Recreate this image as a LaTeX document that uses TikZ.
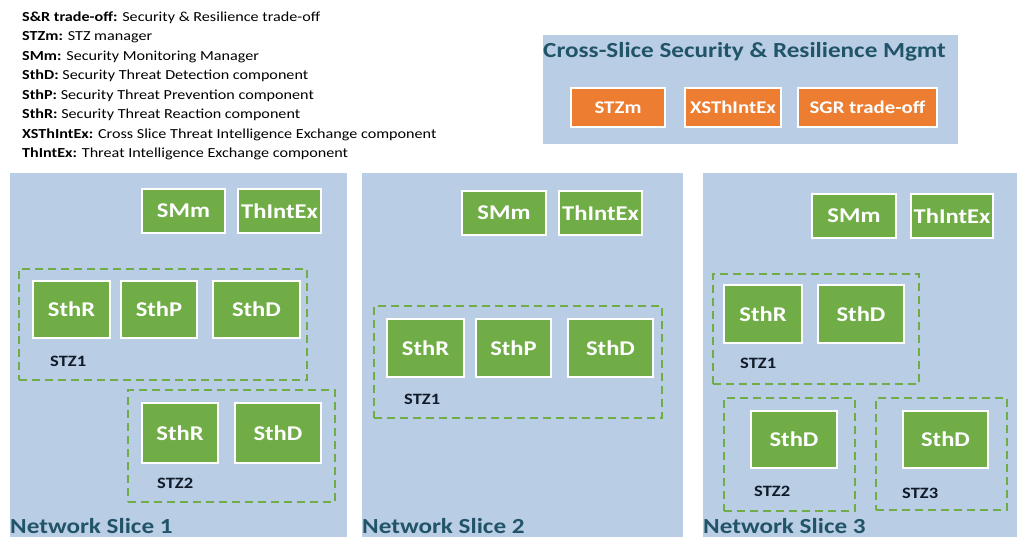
\documentclass[tikz,border=0pt]{standalone}
\usepackage{fontspec}
\setmainfont[FakeStretch=1.17]{Carlito}
\usetikzlibrary{fit}
\definecolor{slicebg}{RGB}{185,205,228}
\definecolor{compgreen}{RGB}{112,173,71}
\definecolor{mgmtorange}{RGB}{237,125,49}
\definecolor{titleteal}{RGB}{33,84,104}
\definecolor{zonetext}{RGB}{16,26,40}
\tikzset{
  slicebox/.style={fill=slicebg, draw=none, inner sep=0pt},
  comp/.style={fill=compgreen, draw=white, line width=2pt, inner sep=0pt,
    text=white, font=\fontsize{21}{23}\selectfont\bfseries},
  mgmt/.style={fill=mgmtorange, draw=white, line width=2pt, inner sep=0pt,
    text=white, font=\fontsize{17.8}{19}\selectfont\bfseries},
  zone/.style={draw=compgreen, line width=1.8pt, dash pattern=on 8pt off 5pt, inner sep=0pt},
  zonelabel/.style={anchor=west, inner sep=0pt, text=zonetext,
    font=\fontsize{15.8}{17}\selectfont\bfseries},
  bigtitle/.style={inner sep=0pt, text=titleteal, font=\fontsize{21.5}{24}\selectfont\bfseries},
  legend/.style={anchor=west, inner sep=0pt, font=\fontsize{13.8}{15}\selectfont}
}
% box given by its corners: style, name, x1, y1, x2, y2, text
\newcommand\cornerbox[7]{%
  \node[#1, minimum width={(#5-#3)*1pt}, minimum height={(#6-#4)*1pt}]
    (#2) at ({(#3+#5)/2},{(#4+#6)/2}) {#7};}
\begin{document}
\begin{tikzpicture}[x=1pt,y=-1pt]
\useasboundingbox (0,0) rectangle (1017,537);
\fill[white] (0,0) rectangle (1017,537);

% glossary
\node[legend] (g1) at (22,17.5)  {\textbf{S\&R trade-off:} Security \& Resilience trade-off};
\node[legend] (g2) at (22,37)    {\textbf{STZm:} STZ manager};
\node[legend] (g3) at (22,56.5)  {\textbf{SMm:} Security Monitoring Manager};
\node[legend] (g4) at (22,76)    {\textbf{SthD:} Security Threat Detection component};
\node[legend] (g5) at (22,95.5)  {\textbf{SthP:} Security Threat Prevention component};
\node[legend] (g6) at (22,115)   {\textbf{SthR:} Security Threat Reaction component};
\node[legend] (g7) at (22,134.5) {\textbf{XSThIntEx:} Cross Slice Threat Intelligence Exchange component};
\node[legend] (g8) at (22,154)   {\textbf{ThIntEx:} Threat Intelligence Exchange component};

% cross-slice management
\node[slicebox, fit={(543,35)(958,144)}] (xs) {};
\node[bigtitle, anchor=base west] (xstitle) at (543,58) {Cross-Slice Security \& Resilience Mgmt};
\cornerbox{mgmt}{stzm}{571}{88}{665}{127}{STZm}
\cornerbox{mgmt}{xsthintex}{685}{88}{781}{127}{XSThIntEx}
\cornerbox{mgmt}{sgr}{798}{88}{937}{127}{SGR trade-off}

% slice backgrounds
\node[slicebox, fit={(10,173)(347,537)}] (s1) {};
\node[slicebox, fit={(362,173)(683,537)}] (s2) {};
\node[slicebox, fit={(703,173)(1017,537)}] (s3) {};

% network slice 1
\cornerbox{comp}{s1smm}{142}{189}{225}{233}{SMm}
\cornerbox{comp}{s1tie}{238}{189}{321}{233}{ThIntEx}
\node[zone, fit={(19,269)(307,380)}] (s1z1) {};
\cornerbox{comp}{s1z1r}{33}{281}{110}{338}{SthR}
\cornerbox{comp}{s1z1p}{121}{281}{197}{338}{SthP}
\cornerbox{comp}{s1z1d}{213}{281}{300}{338}{SthD}
\node[zonelabel] (s1z1l) at (50,361) {STZ1};
\node[zone, fit={(128,390)(335,502)}] (s1z2) {};
\cornerbox{comp}{s1z2r}{142}{403}{218}{463}{SthR}
\cornerbox{comp}{s1z2d}{235}{403}{321}{463}{SthD}
\node[zonelabel] (s1z2l) at (157,483) {STZ2};
\node[bigtitle, anchor=base west] (s1t) at (10,533) {Network Slice 1};

% network slice 2
\cornerbox{comp}{s2smm}{462}{191}{546}{235}{SMm}
\cornerbox{comp}{s2tie}{559}{191}{642}{235}{ThIntEx}
\node[zone, fit={(374,306)(662,418)}] (s2z1) {};
\cornerbox{comp}{s2z1r}{387}{319}{464}{377}{SthR}
\cornerbox{comp}{s2z1p}{476}{319}{551}{377}{SthP}
\cornerbox{comp}{s2z1d}{568}{319}{653}{377}{SthD}
\node[zonelabel] (s2z1l) at (404,399) {STZ1};
\node[bigtitle, anchor=base west] (s2t) at (362,533) {Network Slice 2};

% network slice 3
\cornerbox{comp}{s3smm}{812}{194}{896}{238}{SMm}
\cornerbox{comp}{s3tie}{911}{194}{993}{238}{ThIntEx}
\node[zone, fit={(713,274)(919,384)}] (s3z1) {};
\cornerbox{comp}{s3z1r}{724}{285}{802}{343}{SthR}
\cornerbox{comp}{s3z1d}{818}{285}{904}{343}{SthD}
\node[zonelabel] (s3z1l) at (740,363) {STZ1};
\node[zone, fit={(724,398)(855,511)}] (s3z2) {};
\cornerbox{comp}{s3z2d}{751}{411}{837}{468}{SthD}
\node[zonelabel] (s3z2l) at (754,491) {STZ2};
\node[zone, fit={(876,398)(1007,510)}] (s3z3) {};
\cornerbox{comp}{s3z3d}{903}{411}{988}{468}{SthD}
\node[zonelabel] (s3z3l) at (902,493) {STZ3};
\node[bigtitle, anchor=base west] (s3t) at (703,533) {Network Slice 3};
\end{tikzpicture}
\end{document}
